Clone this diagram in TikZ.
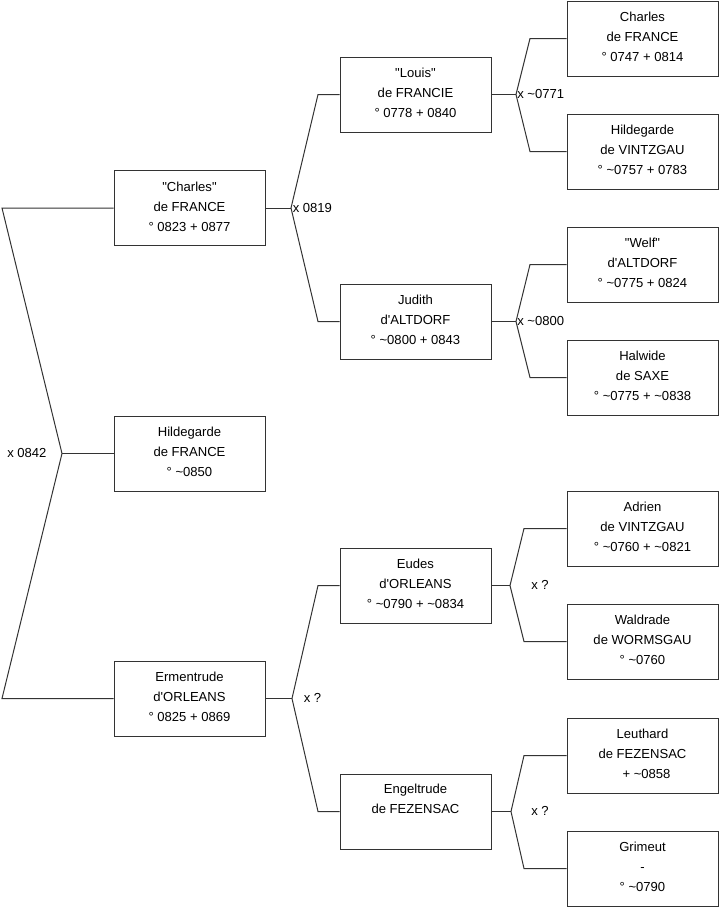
\documentclass[tikz,border=0pt]{standalone}
\usepackage{fontspec}
\setmainfont{Liberation Sans}
\newcommand{\qd}{\textquotedbl}
\newcommand{\qs}{\textquotesingle}
\begin{document}
\begin{tikzpicture}[x=0.75pt,y=-0.75pt,
  person/.style={draw=black!80,line width=0.75pt,minimum width=113.25pt,minimum height=56.25pt,
    inner sep=0pt,align=center,font=\fontsize{9.8}{15}\selectfont,
    execute at end node={\rule[-2.5pt]{0pt}{2.5pt}}},
  link/.style={draw=black!80,line width=0.75pt},
  marr/.style={anchor=west,inner sep=0pt,font=\fontsize{9.8}{15}\selectfont}]
\useasboundingbox (0,0) rectangle (719,908);
% column 1
\node[person] (c1) at (189.5,208) {\qd Charles\qd\\de FRANCE\\° 0823 + 0877};
\node[person] (h1) at (189.5,453.5) {Hildegarde\\de FRANCE\\° \textasciitilde0850};
\node[person] (e1) at (189.5,698.5) {Ermentrude\\d\qs ORLEANS\\° 0825 + 0869};
% column 2
\node[person] (lo) at (415.5,94.5) {\qd Louis\qd\\de FRANCIE\\° 0778 + 0840};
\node[person] (ju) at (415.5,321.5) {Judith\\d\qs ALTDORF\\° \textasciitilde0800 + 0843};
\node[person] (eu) at (415.5,585.5) {Eudes\\d\qs ORLEANS\\° \textasciitilde0790 + \textasciitilde0834};
\node[person] (en) at (415.5,811.5) {Engeltrude\\de FEZENSAC\\\strut};
% column 3
\node[person] (ch) at (642.5,38.5) {Charles\\de FRANCE\\° 0747 + 0814};
\node[person] (hv) at (642.5,151.5) {Hildegarde\\de VINTZGAU\\° \textasciitilde0757 + 0783};
\node[person] (we) at (642.5,264.5) {\qd Welf\qd\\d\qs ALTDORF\\° \textasciitilde0775 + 0824};
\node[person] (ha) at (642.5,377.5) {Halwide\\de SAXE\\° \textasciitilde0775 + \textasciitilde0838};
\node[person] (ad) at (642.5,528.5) {Adrien\\de VINTZGAU\\° \textasciitilde0760 + \textasciitilde0821};
\node[person] (wa) at (642.5,641.5) {Waldrade\\de WORMSGAU\\° \textasciitilde0760};
\node[person] (le) at (642.5,755.5) {Leuthard\\de FEZENSAC\\\hspace{6pt}+ \textasciitilde0858};
\node[person] (gr) at (642.5,868.5) {Grimeut\\-\\° \textasciitilde0790};
% fork points
\coordinate (f0) at (62,453.5);
\coordinate (f0a) at (2,208);
\coordinate (f0b) at (2,698.5);
\coordinate (f1) at (291,208);
\coordinate (f1a) at (318,94.5);
\coordinate (f1b) at (318,321.5);
\coordinate (f2) at (516,94.5);
\coordinate (f2a) at (530,38.5);
\coordinate (f2b) at (530,151.5);
\coordinate (f3) at (516,321.5);
\coordinate (f3a) at (530,264.5);
\coordinate (f3b) at (530,377.5);
\coordinate (f4) at (292,698.5);
\coordinate (f4a) at (318,585.5);
\coordinate (f4b) at (318,811.5);
\coordinate (f5) at (510,585.5);
\coordinate (f5a) at (524,528.5);
\coordinate (f5b) at (524,641.5);
\coordinate (f6) at (511,811.5);
\coordinate (f6a) at (524,755.5);
\coordinate (f6b) at (524,868.5);
% connectors
\draw[link] (c1.west) -- (f0a) -- (f0) -- (f0b) -- (e1.west);
\draw[link] (f0) -- (h1.west);
\draw[link] (lo.west) -- (f1a) -- (f1) -- (f1b) -- (ju.west);
\draw[link] (f1) -- (c1.east);
\draw[link] (ch.west) -- (f2a) -- (f2) -- (f2b) -- (hv.west);
\draw[link] (f2) -- (lo.east);
\draw[link] (we.west) -- (f3a) -- (f3) -- (f3b) -- (ha.west);
\draw[link] (f3) -- (ju.east);
\draw[link] (eu.west) -- (f4a) -- (f4) -- (f4b) -- (en.west);
\draw[link] (f4) -- (e1.east);
\draw[link] (ad.west) -- (f5a) -- (f5) -- (f5b) -- (wa.west);
\draw[link] (f5) -- (eu.east);
\draw[link] (le.west) -- (f6a) -- (f6) -- (f6b) -- (gr.west);
\draw[link] (f6) -- (en.east);
% marriage labels
\node[marr] (m0) at (7,453) {x 0842};
\node[marr] (m1) at (292.5,207.5) {x 0819};
\node[marr] (m2) at (517,94) {x \textasciitilde0771};
\node[marr] (m3) at (517,321) {x \textasciitilde0800};
\node[marr] (m4) at (303.5,698) {x ?};
\node[marr] (m5) at (531,585) {x ?};
\node[marr] (m6) at (531,811) {x ?};
\end{tikzpicture}
\end{document}
